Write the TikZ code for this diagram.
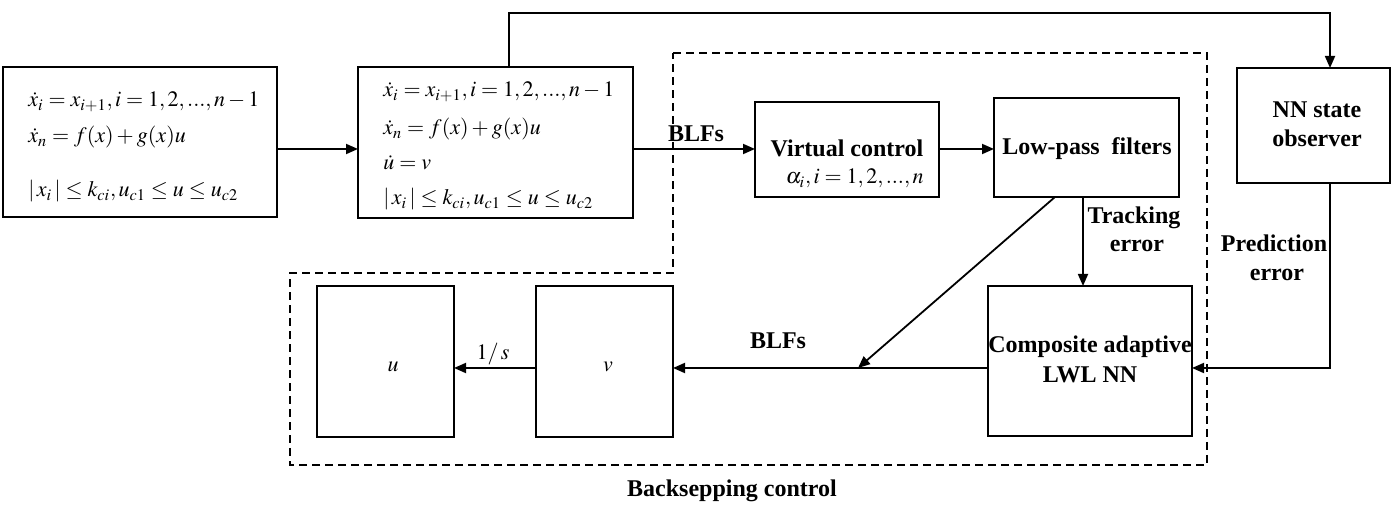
\documentclass[tikz,border=0pt]{standalone}
\usepackage{mathptmx}
\usepackage[no-math]{fontspec}
\setmainfont{Liberation Serif}
\usetikzlibrary{arrows.meta}
\begin{document}
\begin{tikzpicture}[x=0.5pt,y=-0.5pt, font=\fontsize{12}{14}\selectfont,
  blk/.style={draw, line width=0.9pt, inner sep=0, outer sep=0},
  arr/.style={line width=0.9pt, -{Triangle[length=6pt,width=5pt]}},
  ln/.style={line width=0.9pt},
  txt/.style={inner sep=0, anchor=base, font=\fontsize{11}{13}\selectfont},
  eq/.style={inner sep=0, anchor=base west, font=\fontsize{11}{13}\selectfont},
  btxt/.style={inner sep=0, anchor=base, font=\fontsize{12}{14}\selectfont\bfseries},
  region/.style={dash pattern=on 4pt off 2.5pt, line width=0.8pt}]
\useasboundingbox (0,0) rectangle (1392,506);

% dashed backstepping region
\draw[region] (673,53) -- (1207,53) -- (1207,465) -- (290,465) -- (290,273) -- (673,273) -- cycle;

% blocks
\node[blk, minimum width=137pt, minimum height=75pt] (B1) at (140,142) {};
\node[blk, minimum width=137.5pt, minimum height=75.5pt] (B2) at (495.5,142.5) {};
\node[blk, minimum width=92pt, minimum height=47.5pt] (VC) at (847,149.5) {};
\node[blk, minimum width=92.5pt, minimum height=49.5pt] (LPF) at (1086.5,147.5) {};
\node[blk, minimum width=76.5pt, minimum height=57.5pt] (NN) at (1313.5,125.5) {};
\node[blk, minimum width=102pt, minimum height=75pt] (CA) at (1090,361) {};
\node[blk, minimum width=68.5pt, minimum height=75.5pt] (V) at (604.5,361.5) {};
\node[blk, minimum width=68.5pt, minimum height=75.5pt] (U) at (385.5,361.5) {};

% texts in B1
\node[eq] (b1a) at (28,107) {$\dot{x}_i = x_{i+1}, i=1,2,...,n-1$};
\node[eq] (b1b) at (28,143) {$\dot{x}_n = f(x)+g(x)u$};
\node[eq] (b1c) at (28,197) {$|\,x_i\,|\le k_{ci}, u_{c1}\le u\le u_{c2}$};
% texts in B2
\node[eq] (b2a) at (383,97) {$\dot{x}_i = x_{i+1}, i=1,2,...,n-1$};
\node[eq] (b2b) at (383,135) {$\dot{x}_n = f(x)+g(x)u$};
\node[eq] (b2c) at (383,170) {$\dot{u} = v$};
\node[eq] (b2d) at (383,205) {$|\,x_i\,|\le k_{ci}, u_{c1}\le u\le u_{c2}$};

% other texts
\node[btxt] (vct) at (847,157) {Virtual control};
\node[txt, anchor=base east] (vca) at (924,184) {$\alpha_i, i=1,2,...,n$};
\node[btxt] (lpft) at (1087,155) {Low-pass\ \ filters};
\node[btxt] (nn1) at (1317,118) {NN state};
\node[btxt] (nn2) at (1317,147) {observer};
\node[btxt] (ca1) at (1090,353) {Composite adaptive};
\node[btxt] (ca2) at (1090,383) {LWL NN};
\node[txt] (ut) at (393,372) {$u$};
\node[txt] (vt) at (608,372) {$v$};
\node[txt] (s1) at (493,360) {$1/\,s$};
\node[btxt] (blf1) at (696,142) {BLFs};
\node[btxt] (blf2) at (778,349) {BLFs};
\node[btxt] (tr1) at (1134,224) {Tracking};
\node[btxt] (tr2) at (1137,252) {error};
\node[btxt] (pr1) at (1274,252) {Prediction};
\node[btxt] (pr2) at (1277,281) {error};
\node[btxt] (bsc) at (732,497) {Backsepping control};

% connectors
\coordinate (top1) at (509,13);
\coordinate (top2) at (1330,13);
\coordinate (pe) at (1330,368);
\coordinate (mrg) at (858,368);
\draw[arr] (B1.east |- 0,149) -- (B2.west |- 0,149);
\draw[arr] (B2.east |- 0,149) -- (VC.west |- 0,149);
\draw[arr] (VC.east |- 0,149) -- (LPF.west |- 0,149);
\draw[arr] (B2.north -| top1) -- (top1) -- (top2) -- (NN.north -| top2);
\draw[arr] (LPF.south -| 1083,0) -- (CA.north -| 1083,0);
\draw[arr] (NN.south -| pe) -- (pe) -- (CA.east |- pe);
\draw[arr] (LPF.south -| 1055,0) -- (mrg);
\draw[arr] (CA.west |- 0,368) -- (V.east |- 0,368);
\draw[arr] (V.west |- 0,368) -- (U.east |- 0,368);
\end{tikzpicture}
\end{document}
